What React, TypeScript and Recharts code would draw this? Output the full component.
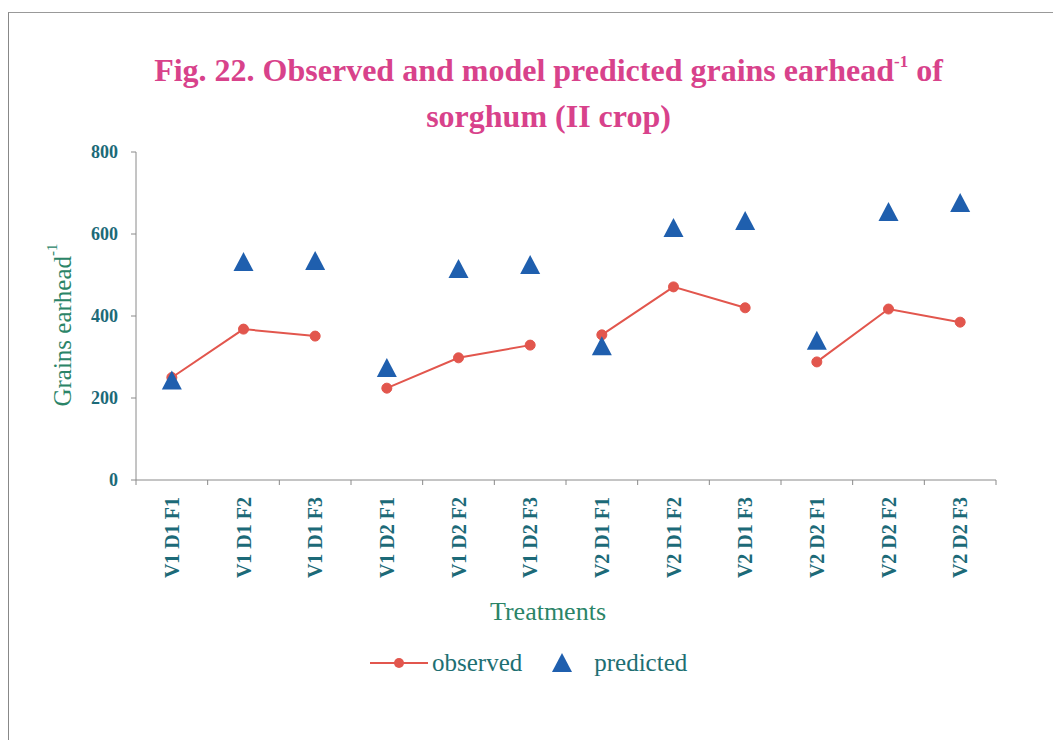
import React from 'react';
import { ComposedChart, Line, XAxis, YAxis, Label } from 'recharts';

const categories = ['V1 D1 F1', 'V1 D1 F2', 'V1 D1 F3', 'V1 D2 F1', 'V1 D2 F2', 'V1 D2 F3', 'V2 D1 F1', 'V2 D1 F2', 'V2 D1 F3', 'V2 D2 F1', 'V2 D2 F2', 'V2 D2 F3'];
const observed = [250, 368, 351, 224, 298, 329, 354, 471, 420, 288, 417, 385];
const predicted = [240, 529, 532, 271, 512, 522, 324, 612, 629, 337, 651, 673];
const groupOf = [0, 0, 0, 1, 1, 1, 2, 2, 2, 3, 3, 3];
const groups = [0, 1, 2, 3];
const yTicks = [0, 200, 400, 600, 800];

const W = 1053;
const H = 620;
const MARGIN = { top: 144, right: 65, bottom: 0, left: 0 };
const Y_AXIS_W = 128;
const X_AXIS_H = 148;
const PLOT_LEFT = MARGIN.left + Y_AXIS_W;
const PLOT_W = W - MARGIN.right - PLOT_LEFT;
const AXIS_Y = H - MARGIN.bottom - X_AXIS_H;
const BAND = PLOT_W / categories.length;

const data = categories.map((c, i) => {
  const row: Record<string, any> = { name: c, predicted: predicted[i] };
  groups.forEach((g) => {
    row['obs' + g] = groupOf[i] === g ? observed[i] : null;
  });
  return row;
});

const RED = '#e2564d';
const BLUE = '#1f5fae';
const TICK = '#1c6a78';
const GREEN = '#2b8467';
const AXIS = '#8a8a8a';
const SERIF = '"Liberation Serif", "Times New Roman", serif';

const XTick = (props: any) => {
  const { x, payload, index } = props;
  return (
    <g>
      <line x1={x - BAND / 2} y1={AXIS_Y} x2={x - BAND / 2} y2={AXIS_Y + 5} stroke={AXIS} />
      {index === categories.length - 1 && (
        <line x1={x + BAND / 2} y1={AXIS_Y} x2={x + BAND / 2} y2={AXIS_Y + 5} stroke={AXIS} />
      )}
      <text
        x={0}
        y={0}
        transform={`translate(${x + 7},${AXIS_Y + 17}) rotate(-90)`}
        textAnchor="end"
        fill={TICK}
        fontFamily={SERIF}
        fontWeight="bold"
        fontSize={20}
      >
        {payload.value}
      </text>
    </g>
  );
};

const Triangle = (props: any) => {
  const { cx, cy } = props;
  if (cx == null || cy == null) return null;
  return <polygon points={`${cx},${cy - 11} ${cx + 10},${cy + 8} ${cx - 10},${cy + 8}`} fill={BLUE} />;
};

const YLabelContent = () => (
  <text
    transform={`translate(54,${317}) rotate(-90)`}
    textAnchor="middle"
    dominantBaseline="central"
    fill={GREEN}
    fontFamily={SERIF}
    fontSize={25}
  >
    Grains earhead
    <tspan dy={-10} fontSize={15}>-1</tspan>
  </text>
);

const XLabelContent = () => (
  <text x={540} y={603} textAnchor="middle" dominantBaseline="central" fill={GREEN} fontFamily={SERIF} fontSize={26}>
    Treatments
  </text>
);

export default function App() {
  return (
    <div style={{ position: 'relative', width: W, height: 732, background: '#fff', fontFamily: SERIF }}>
      <div style={{ position: 'absolute', left: 0, top: 4, width: W, height: 728, borderTop: '1px solid #999', borderLeft: '1px solid #888' }} />
      <div
        style={{
          position: 'absolute',
          left: 14,
          top: 42,
          width: W,
          textAlign: 'center',
          color: '#d8428b',
          fontWeight: 'bold',
          fontSize: 32,
          lineHeight: '40px',
          fontFamily: SERIF,
        }}
      >
        Fig. 22. Observed and model predicted grains earhead
        <span style={{ fontSize: 17, position: 'relative', top: -14 }}>-1</span> of
        <br />
        sorghum (II crop)
      </div>
      <div style={{ position: 'absolute', left: 0, top: 0 }}>
        <ComposedChart width={W} height={H} data={data} margin={MARGIN}>
          <XAxis
            dataKey="name"
            type="category"
            height={X_AXIS_H}
            interval={0}
            tickLine={false}
            tick={<XTick />}
            stroke={AXIS}
            padding={{ left: BAND / 2, right: BAND / 2 }}
          >
            <Label content={<XLabelContent />} />
          </XAxis>
          <YAxis
            width={Y_AXIS_W}
            domain={[0, 800]}
            ticks={yTicks}
            interval={0}
            tickSize={5}
            tickMargin={13}
            stroke={AXIS}
            tick={{ fill: TICK, fontFamily: SERIF, fontWeight: 'bold', fontSize: 18 }}
          >
            <Label content={<YLabelContent />} />
          </YAxis>
          {groups.map((g) => (
            <Line
              key={g}
              dataKey={'obs' + g}
              name="observed"
              stroke={RED}
              strokeWidth={2}
              dot={{ r: 5, fill: RED, stroke: RED, strokeWidth: 1 }}
              connectNulls={false}
              isAnimationActive={false}
              legendType="none"
            />
          ))}
          <Line
            dataKey="predicted"
            name="predicted"
            stroke="none"
            strokeWidth={0}
            dot={<Triangle />}
            activeDot={false}
            isAnimationActive={false}
            legendType="none"
          />
        </ComposedChart>
      </div>
      <div
        style={{
          position: 'absolute',
          left: 362,
          top: 640,
          height: 30,
          display: 'flex',
          alignItems: 'center',
          fontFamily: SERIF,
          fontSize: 25,
          color: '#1e6f72',
        }}
      >
        <svg width={60} height={20} style={{ display: 'block' }}>
          <line x1={0} y1={10} x2={58} y2={10} stroke={RED} strokeWidth={2} />
          <circle cx={29} cy={10} r={5} fill={RED} />
        </svg>
        <span style={{ marginLeft: 2 }}>observed</span>
        <svg width={24} height={22} style={{ display: 'block', marginLeft: 28 }}>
          <polygon points="12,1 22,20 2,20" fill={BLUE} />
        </svg>
        <span style={{ marginLeft: 20 }}>predicted</span>
      </div>
    </div>
  );
}
